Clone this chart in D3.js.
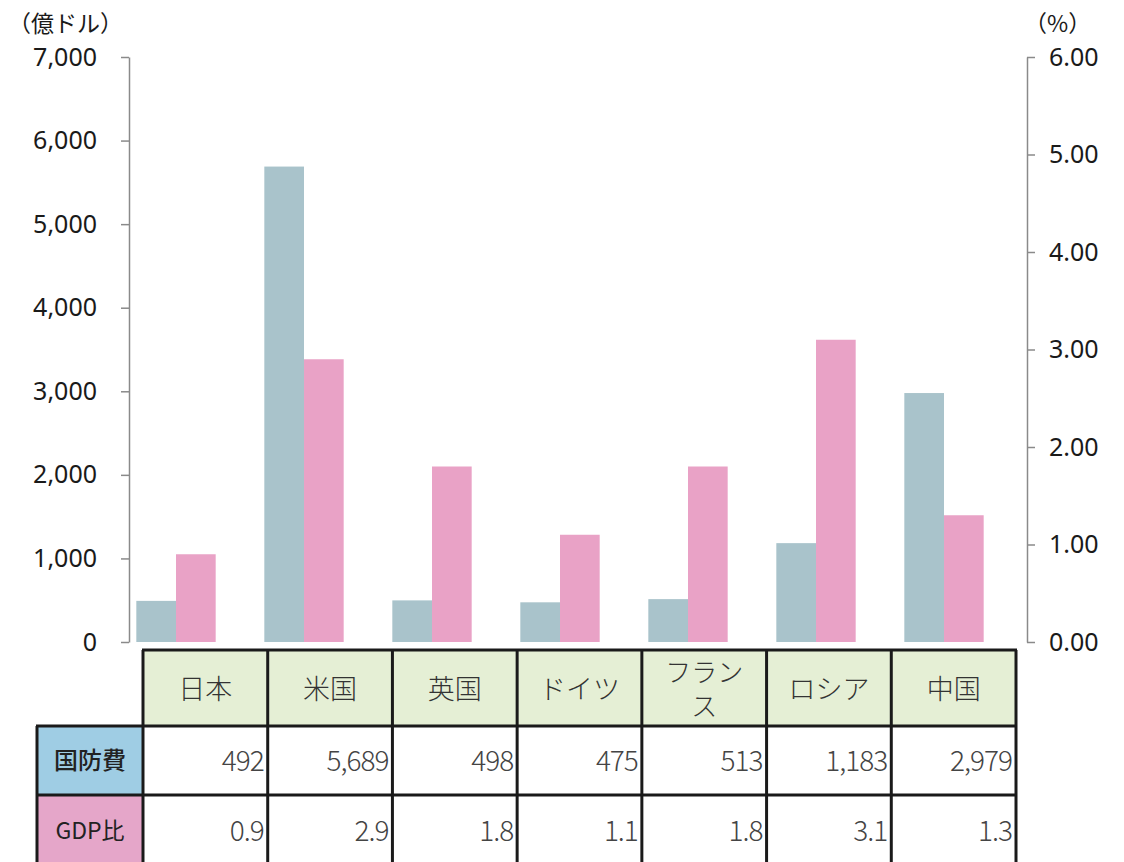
<!DOCTYPE html>
<html><head><meta charset="utf-8">
<script src="https://cdn.jsdelivr.net/npm/d3@7"></script>
<style>
html,body{margin:0;padding:0;background:#fff;}
svg{display:block;}
</style></head>
<body>
<svg id="chart" width="1124" height="862"></svg>
<script>
const categories = ["日本","米国","英国","ドイツ","フランス","ロシア","中国"];
const categoryLines = [["日本"],["米国"],["英国"],["ドイツ"],["フラン","ス"],["ロシア"],["中国"]];
const defense = [492,5689,498,475,513,1183,2979];
const gdpRatio = [0.9,2.9,1.8,1.1,1.8,3.1,1.3];
const defenseLabels = ["492","5,689","498","475","513","1,183","2,979"];
const gdpLabels = ["0.9","2.9","1.8","1.1","1.8","3.1","1.3"];
const leftTicks = [0,1000,2000,3000,4000,5000,6000,7000];
const rightTicks = [0,1,2,3,4,5,6];
const seriesNames = ["国防費","GDP比"];
const leftTitle = "（億ドル）";
const rightTitle = "（%）";

const svg = d3.select("#chart");
const font = "'Noto Sans CJK JP','Noto Sans',sans-serif";
const blue = "#a9c3cb", pink = "#e9a2c6";

const yL = d3.scaleLinear().domain([0,7000]).range([642,57]);
const yR = d3.scaleLinear().domain([0,6]).range([642,57]);
const x0 = d3.scaleBand().domain(categories).range([112,1008]).paddingInner(0.38).paddingOuter(0.19);
const x1 = d3.scaleBand().domain([0,1]).range([0,x0.bandwidth()]);

// axes
const gL = svg.append("g").attr("transform","translate(129,0)")
  .call(d3.axisLeft(yL).tickValues(leftTicks).tickSize(8).tickSizeOuter(0).tickFormat(d3.format(",")));
const gR = svg.append("g").attr("transform","translate(1027,0)")
  .call(d3.axisRight(yR).tickValues(rightTicks).tickSize(8).tickSizeOuter(0).tickFormat(d3.format(".2f")));
[gL,gR].forEach(g=>{
  g.select(".domain").attr("stroke","#8a8a8a").attr("stroke-width",1.5);
  g.selectAll(".tick line").attr("stroke","#8a8a8a").attr("stroke-width",1.5);
  g.selectAll(".tick text").attr("font-family","'Noto Sans',sans-serif").attr("font-size",25).attr("fill","#1a1a1a");
});
gL.selectAll(".tick text").attr("x",-32);
gR.selectAll(".tick text").attr("x",22);

svg.append("text").attr("x",8).attr("y",32).attr("font-family",font).attr("font-size",23).attr("fill","#1a1a1a").text(leftTitle);
svg.append("text").attr("x",1024).attr("y",32).attr("font-family",font).attr("font-size",23).attr("fill","#1a1a1a").text(rightTitle);

// bars
const groups = svg.append("g").selectAll("g").data(categories).join("g")
  .attr("transform",d=>`translate(${x0(d)},0)`);
groups.append("rect").attr("x",x1(0)).attr("width",x1.bandwidth())
  .attr("y",(d,i)=>yL(defense[i])).attr("height",(d,i)=>yL(0)-yL(defense[i])).attr("fill",blue);
groups.append("rect").attr("x",x1(1)).attr("width",x1.bandwidth())
  .attr("y",(d,i)=>yR(gdpRatio[i])).attr("height",(d,i)=>yR(0)-yR(gdpRatio[i])).attr("fill",pink);

// table
const colX = d3.scaleBand().domain(categories).range([143,1016]);
const rowTop = 650, hdrBot = 726, r1Bot = 795, r2Bot = 866;
const labelLeft = 37;
const t = svg.append("g");
t.append("rect").attr("x",143).attr("y",rowTop).attr("width",1016-143).attr("height",hdrBot-rowTop).attr("fill","#e5efd5");
t.append("rect").attr("x",labelLeft).attr("y",hdrBot).attr("width",143-labelLeft).attr("height",r1Bot-hdrBot).attr("fill","#9fcde4");
t.append("rect").attr("x",labelLeft).attr("y",r1Bot).attr("width",143-labelLeft).attr("height",r2Bot-r1Bot).attr("fill","#e5a6c9");

const lineStyle = s=>s.attr("stroke","#1a1a1a").attr("stroke-width",3);
t.append("line").attr("x1",142).attr("x2",1017).attr("y1",rowTop).attr("y2",rowTop).call(lineStyle);
t.append("line").attr("x1",labelLeft-1).attr("x2",1017).attr("y1",hdrBot).attr("y2",hdrBot).call(lineStyle);
t.append("line").attr("x1",labelLeft-1).attr("x2",1017).attr("y1",r1Bot).attr("y2",r1Bot).call(lineStyle);
t.append("line").attr("x1",labelLeft).attr("x2",labelLeft).attr("y1",hdrBot).attr("y2",862).call(lineStyle);
categories.forEach(c=>{
  t.append("line").attr("x1",colX(c)).attr("x2",colX(c)).attr("y1",rowTop).attr("y2",862).call(lineStyle);
});
t.append("line").attr("x1",1016).attr("x2",1016).attr("y1",rowTop).attr("y2",862).call(lineStyle);

// header text and values
categories.forEach((c,i)=>{
  const lines = categoryLines[i];
  const cx = colX(c)+colX.bandwidth()/2;
  const ys = lines.length===1 ? [699] : [682, 716];
  lines.forEach((ln,k)=>{
    t.append("text").attr("x",cx).attr("y",ys[k]).attr("font-family",font).attr("font-size",lines.length===1?27:26)
      .attr("fill","#333").attr("font-weight",300).attr("text-anchor","middle").text(ln);
  });
  t.append("text").attr("x",colX(c)+colX.bandwidth()-4).attr("y",771)
    .attr("text-anchor","end").attr("font-family",font).attr("font-weight",300)
    .attr("font-size",28).attr("letter-spacing",-1).attr("fill","#444").text(defenseLabels[i]);
  t.append("text").attr("x",colX(c)+colX.bandwidth()-4).attr("y",841)
    .attr("text-anchor","end").attr("font-family",font).attr("font-weight",300)
    .attr("font-size",28).attr("letter-spacing",-1).attr("fill","#444").text(gdpLabels[i]);
});
t.append("text").attr("x",(labelLeft+143)/2).attr("y",769).attr("text-anchor","middle")
  .attr("font-family",font).attr("font-weight",500).attr("font-size",24).attr("fill","#222").text(seriesNames[0]);
t.append("text").attr("x",(labelLeft+143)/2).attr("y",839).attr("text-anchor","middle")
  .attr("font-family",font).attr("font-size",23).attr("fill","#222").text(seriesNames[1]);
</script>
</body></html>
